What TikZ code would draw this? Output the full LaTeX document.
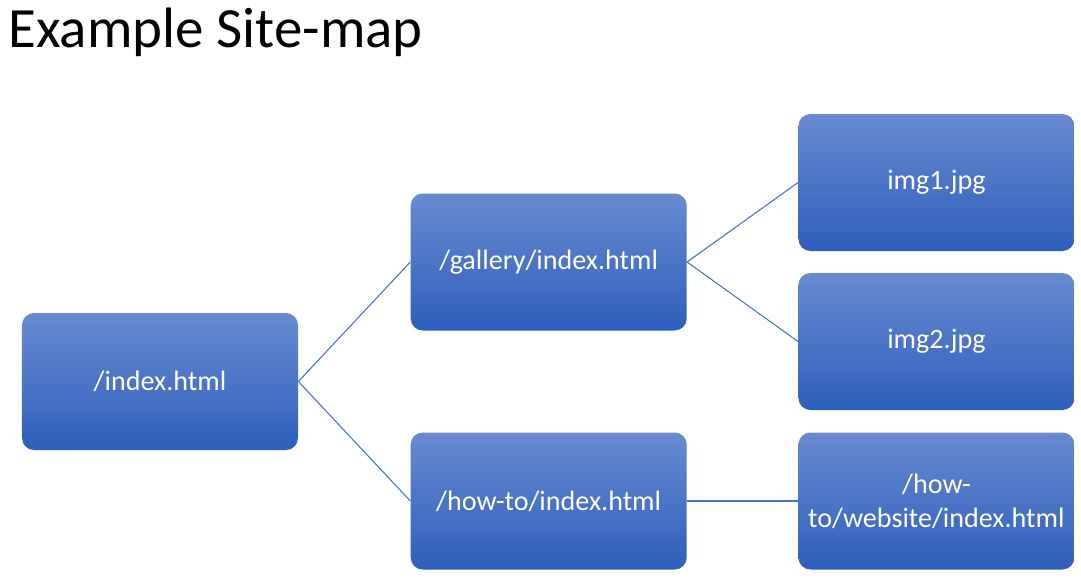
\documentclass[tikz,border=0pt]{standalone}
\usepackage{fontspec}
\setmainfont{Carlito}
\usetikzlibrary{positioning}
\definecolor{pageTop}{RGB}{104,138,208}
\definecolor{pageBottom}{RGB}{46,95,188}
\definecolor{linkBlue}{RGB}{68,114,196}
\tikzset{
  pageBox/.style={rectangle,rounded corners=0.24cm,top color=pageTop,bottom color=pageBottom,
                  draw=none,text=white,minimum width=5.52cm,minimum height=2.74cm,
                  inner sep=0pt,align=center,font=\fontsize{16}{19.5}\selectfont},
  linkLine/.style={draw=linkBlue,line width=0.6pt},
}
\begin{document}
\begin{tikzpicture}
  \useasboundingbox (0,0) rectangle (21.62,-11.6);
  \node[anchor=base west,inner sep=0pt,font=\fontsize{32.4}{39}\selectfont](title) at (0.16,-0.94){Example Site-map};
  \node[pageBox](idx) at (3.2,-7.63){/index.html};
  \node[pageBox,right=2.24cm of idx,yshift=2.39cm](gal){/gallery/index.html};
  \node[pageBox,right=2.24cm of idx,yshift=-2.39cm](how){/how-to/index.html};
  \node[pageBox,right=2.22cm of gal,yshift=1.59cm](img1){img1.jpg};
  \node[pageBox,right=2.22cm of gal,yshift=-1.59cm](img2){img2.jpg};
  \node[pageBox,right=2.22cm of how](web){/how-\\to/website/index.html};
  \foreach \x/\y in {idx/gal,idx/how,gal/img1,gal/img2,how/web}{\draw[linkLine](\x.east)--(\y.west);}
\end{tikzpicture}
\end{document}
